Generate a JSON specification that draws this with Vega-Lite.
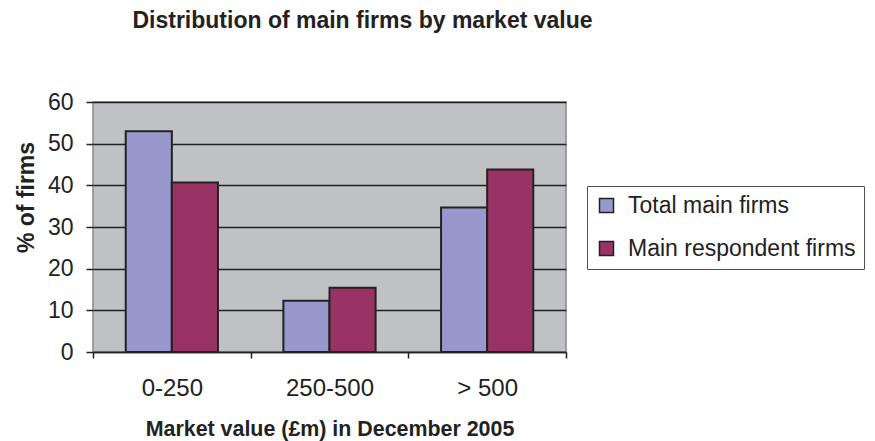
{
  "$schema": "https://vega.github.io/schema/vega-lite/v6.json",
  "width": 473,
  "height": 250,
  "autosize": {"type": "none"},
  "padding": {"left": 93, "top": 102, "right": 309, "bottom": 89},
  "background": "white",
  "title": {
    "text": "Distribution of main firms by market value",
    "font": "Liberation Sans",
    "fontSize": 23,
    "fontWeight": "bold",
    "color": "#222222",
    "anchor": "middle",
    "frame": "group",
    "baseline": "alphabetic",
    "dx": 33,
    "offset": 40
  },
  "data": {
    "values": [
      {"market_value": "0-250", "series": "Total main firms", "percent": 53.0},
      {"market_value": "0-250", "series": "Main respondent firms", "percent": 40.7},
      {"market_value": "250-500", "series": "Total main firms", "percent": 12.3},
      {"market_value": "250-500", "series": "Main respondent firms", "percent": 15.4},
      {"market_value": "> 500", "series": "Total main firms", "percent": 34.7},
      {"market_value": "> 500", "series": "Main respondent firms", "percent": 43.8}
    ]
  },
  "config": {
    "view": {"fill": "#c0c1c5", "stroke": "#8a8a8a", "strokeWidth": 1.5},
    "font": "Liberation Sans"
  },
  "mark": {"type": "bar", "stroke": "#222222", "strokeWidth": 2},
  "encoding": {
    "x": {
      "field": "market_value",
      "type": "nominal",
      "sort": ["0-250", "250-500", "> 500"],
      "scale": {"paddingInner": 0, "paddingOuter": 0},
      "axis": {
        "title": "Market value (£m) in December 2005",
        "titleFont": "Liberation Sans",
        "titleFontSize": 21.4,
        "titleFontWeight": "bold",
        "titleColor": "#222222",
        "titleBaseline": "alphabetic",
        "titleY": 83,
        "labelAngle": 0,
        "labelFont": "Liberation Sans",
        "labelFontSize": 24,
        "labelColor": "#222222",
        "labelPadding": 18,
        "tickBand": "extent",
        "tickSize": 6,
        "tickColor": "#222222",
        "tickWidth": 1.5,
        "domainColor": "#222222",
        "domainWidth": 1.5,
        "grid": false
      }
    },
    "xOffset": {
      "field": "series",
      "type": "nominal",
      "sort": ["Total main firms", "Main respondent firms"],
      "scale": {"paddingInner": 0, "paddingOuter": 0.71}
    },
    "y": {
      "field": "percent",
      "type": "quantitative",
      "scale": {"domain": [0, 60], "nice": false},
      "axis": {
        "title": "% of firms",
        "titleFont": "Liberation Sans",
        "titleFontSize": 23,
        "titleFontWeight": "bold",
        "titleColor": "#222222",
        "titleBaseline": "alphabetic",
        "titleAlign": "center",
        "titleAngle": -90,
        "titleX": -60,
        "titleY": 95,
        "values": [0, 10, 20, 30, 40, 50, 60],
        "labelFont": "Liberation Sans",
        "labelFontSize": 23,
        "labelColor": "#222222",
        "labelPadding": 13,
        "tickSize": 7,
        "tickColor": "#222222",
        "tickWidth": 1.5,
        "domain": false,
        "grid": true,
        "gridColor": "#222222",
        "gridWidth": 1.5
      }
    },
    "fill": {
      "field": "series",
      "type": "nominal",
      "sort": ["Total main firms", "Main respondent firms"],
      "scale": {"domain": ["Total main firms", "Main respondent firms"], "range": ["#9898cc", "#993366"]},
      "legend": {
        "title": null,
        "orient": "none",
        "legendX": 494,
        "legendY": 84,
        "direction": "vertical",
        "strokeColor": "#555555",
        "fillColor": "white",
        "padding": 8,
        "symbolType": "square",
        "symbolSize": 196,
        "symbolStrokeColor": "#222222",
        "symbolStrokeWidth": 1.5,
        "labelFont": "Liberation Sans",
        "labelFontSize": 23,
        "labelColor": "#222222",
        "labelOffset": 10,
        "labelLimit": 400,
        "rowPadding": 19
      }
    }
  }
}
